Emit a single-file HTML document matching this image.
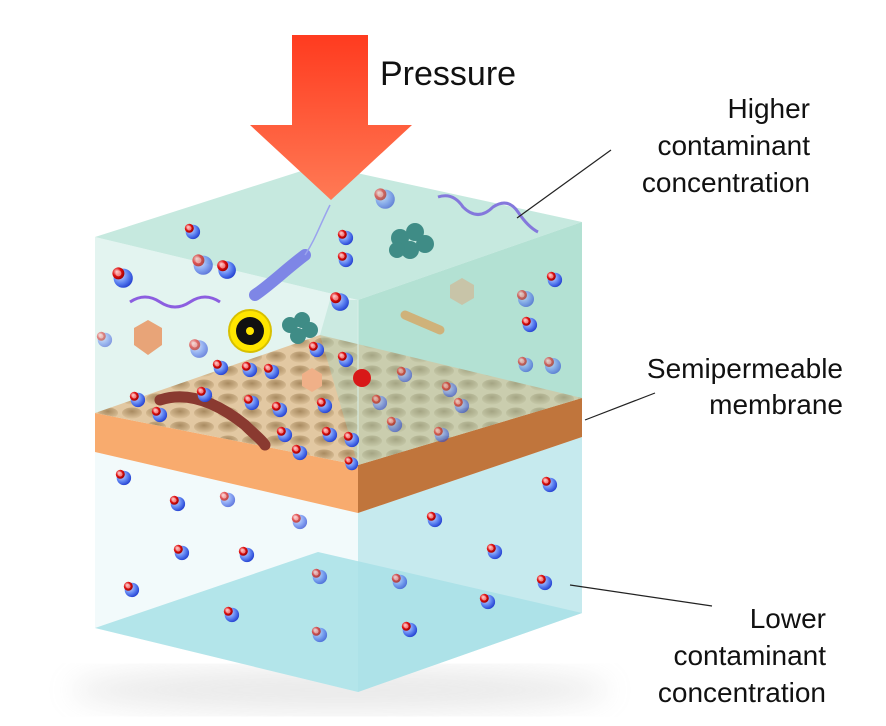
<!DOCTYPE html>
<html><head><meta charset="utf-8"><style>
html,body{margin:0;padding:0;background:#fff;}
svg{display:block}
text{font-family:"Liberation Sans",sans-serif;fill:#111;}
</style></head><body>
<svg width="886" height="726" viewBox="0 0 886 726" xmlns="http://www.w3.org/2000/svg">
<defs>
<linearGradient id="arr" x1="0" y1="0" x2="0" y2="1"><stop offset="0" stop-color="#ff3b1f"/><stop offset="1" stop-color="#ff7a55"/></linearGradient>
<radialGradient id="wb" cx="0.35" cy="0.35" r="0.7"><stop offset="0" stop-color="#c8d8ff"/><stop offset="0.6" stop-color="#5a7ff0"/><stop offset="1" stop-color="#2440d0"/></radialGradient>
<radialGradient id="wr" cx="0.35" cy="0.35" r="0.7"><stop offset="0" stop-color="#ffd0d0"/><stop offset="0.5" stop-color="#e01010"/><stop offset="1" stop-color="#a00000"/></radialGradient>
<radialGradient id="hole" cx="0.5" cy="0.35" r="0.6"><stop offset="0" stop-color="#a88a60"/><stop offset="1" stop-color="#d8bd95"/></radialGradient>
<pattern id="holes" width="24" height="14" patternUnits="userSpaceOnUse"><rect width="24" height="14" fill="#e2c8a2"/><ellipse cx="12" cy="7" rx="10" ry="5.5" fill="url(#hole)"/></pattern>
<filter id="blur"><feGaussianBlur stdDeviation="14"/></filter>
<symbol id="w" viewBox="0 0 20 20"><circle cx="11" cy="11" r="8" fill="url(#wb)"/><circle cx="7" cy="7" r="5" fill="url(#wr)"/><circle cx="7" cy="7" r="2.5" fill="#ffcccc" opacity=".6"/></symbol>
</defs>

<ellipse cx="340" cy="690" rx="270" ry="22" fill="#aaa" opacity=".25" filter="url(#blur)"/>

<polygon points="95,452 358,513 358,692 95,628" fill="#f2fafb"/>
<polygon points="358,513 582,437 582,613 358,692" fill="#c6eaee"/>
<polygon points="95,628 318,552 582,613 358,692" fill="#a8e0e6" opacity=".85"/>

<polygon points="95,237 358,300 358,465 95,413" fill="#e3f4f0"/>
<polygon points="358,300 582,222 582,398 358,465" fill="#bfe6da"/>
<polygon points="95,237 320,165 582,222 358,300" fill="#c6e9df"/>

<polygon points="95,413 358,465 358,513 95,452" fill="#f8ab6e"/>
<polygon points="358,465 582,398 582,437 358,513" fill="#c0753c"/>
<polygon points="95,413 320,335 582,398 358,465" fill="url(#holes)"/>
<polygon points="358,300 582,222 582,398 358,465 320,335 330,300" fill="#9fd8c5" opacity=".35"/>
<line x1="358" y1="300" x2="358" y2="465" stroke="#d8efe8" stroke-width="1"/>

<path d="M160,400 C190,390 220,405 245,425 C255,435 262,440 265,445" stroke="#8a3a30" stroke-width="11" fill="none" stroke-linecap="round"/>
<path d="M255,295 C270,285 285,270 305,255" stroke="#7e86e6" stroke-width="12" fill="none" stroke-linecap="round"/>
<path d="M305,255 C315,240 320,225 330,205" stroke="#9aa3ee" stroke-width="1.5" fill="none"/>
<path d="M130,302 q15,-10 30,0 q15,10 30,0 q15,-10 30,0" stroke="#8c5ee0" stroke-width="3" fill="none"/>
<path d="M438,197 q15,-5 25,10 q15,15 30,0 q15,-10 25,5 q10,15 20,20" stroke="#8478dc" stroke-width="3" fill="none"/>
<path d="M405,315 L440,330" stroke="#cfb27a" stroke-width="9" stroke-linecap="round"/>
<g fill="#3f8c86"><circle cx="400" cy="238" r="9"/><circle cx="415" cy="232" r="9"/><circle cx="425" cy="244" r="9"/><circle cx="410" cy="250" r="9"/><circle cx="397" cy="250" r="8"/>
<circle cx="290" cy="325" r="8"/><circle cx="302" cy="320" r="8"/><circle cx="310" cy="330" r="8"/><circle cx="298" cy="336" r="8"/></g>
<circle cx="250" cy="331" r="21" fill="#ffe600" stroke="#d8c000" stroke-width="2"/>
<circle cx="250" cy="331" r="14" fill="#111"/><circle cx="250" cy="331" r="4" fill="#ffe600"/>
<polygon points="148,320 162,328 162,345 148,355 134,345 134,328" fill="#e8a478"/>
<polygon points="462,278 474,285 474,298 462,305 450,298 450,285" fill="#c8c4a8"/>
<polygon points="312,368 322,374 322,386 312,392 302,386 302,374" fill="#f0b088"/>
<circle cx="362" cy="378" r="9" fill="#d81818"/>

<g>
<use href="#w" x="183" y="222" width="18" height="18"/><use href="#w" x="336" y="228" width="18" height="18"/><use href="#w" x="336" y="250" width="18" height="18"/>
<use href="#w" x="190" y="252" width="24" height="24" opacity=".7"/><use href="#w" x="372" y="186" width="24" height="24" opacity=".6"/>
<use href="#w" x="110" y="265" width="24" height="24"/><use href="#w" x="215" y="258" width="22" height="22"/><use href="#w" x="328" y="290" width="22" height="22"/>
<use href="#w" x="545" y="270" width="18" height="18"/><use href="#w" x="520" y="315" width="18" height="18"/><use href="#w" x="515" y="288" width="20" height="20" opacity=".6"/>
<use href="#w" x="187" y="337" width="22" height="22" opacity=".6"/><use href="#w" x="211" y="358" width="18" height="18"/><use href="#w" x="240" y="360" width="18" height="18"/>
<use href="#w" x="262" y="362" width="18" height="18"/><use href="#w" x="307" y="340" width="18" height="18"/><use href="#w" x="336" y="350" width="18" height="18"/>
<use href="#w" x="128" y="390" width="18" height="18"/><use href="#w" x="150" y="405" width="18" height="18"/><use href="#w" x="195" y="385" width="18" height="18"/>
<use href="#w" x="242" y="393" width="18" height="18"/><use href="#w" x="270" y="400" width="18" height="18"/><use href="#w" x="315" y="396" width="18" height="18"/>
<use href="#w" x="275" y="425" width="18" height="18"/><use href="#w" x="320" y="425" width="18" height="18"/><use href="#w" x="342" y="430" width="18" height="18"/>
<use href="#w" x="290" y="443" width="18" height="18"/><use href="#w" x="343" y="455" width="16" height="16"/>
<use href="#w" x="395" y="365" width="18" height="18" opacity=".6"/><use href="#w" x="440" y="380" width="18" height="18" opacity=".6"/><use href="#w" x="452" y="396" width="18" height="18" opacity=".6"/>
<use href="#w" x="370" y="393" width="18" height="18" opacity=".6"/><use href="#w" x="385" y="415" width="18" height="18" opacity=".6"/><use href="#w" x="432" y="425" width="18" height="18" opacity=".6"/>
<use href="#w" x="516" y="355" width="18" height="18" opacity=".6"/><use href="#w" x="542" y="355" width="20" height="20" opacity=".6"/><use href="#w" x="95" y="330" width="18" height="18" opacity=".5"/>
<use href="#w" x="114" y="468" width="18" height="18"/><use href="#w" x="168" y="494" width="18" height="18"/><use href="#w" x="218" y="490" width="18" height="18" opacity=".7"/>
<use href="#w" x="290" y="512" width="18" height="18" opacity=".7"/><use href="#w" x="172" y="543" width="18" height="18"/><use href="#w" x="237" y="545" width="18" height="18"/>
<use href="#w" x="122" y="580" width="18" height="18"/><use href="#w" x="222" y="605" width="18" height="18"/><use href="#w" x="310" y="567" width="18" height="18" opacity=".7"/>
<use href="#w" x="310" y="625" width="18" height="18" opacity=".7"/><use href="#w" x="390" y="572" width="18" height="18" opacity=".7"/><use href="#w" x="400" y="620" width="18" height="18"/>
<use href="#w" x="425" y="510" width="18" height="18"/><use href="#w" x="485" y="542" width="18" height="18"/><use href="#w" x="478" y="592" width="18" height="18"/>
<use href="#w" x="535" y="573" width="18" height="18"/><use href="#w" x="540" y="475" width="18" height="18"/>
</g>

<polygon points="292,35 368,35 368,125 412,125 331,200 250,125 292,125" fill="url(#arr)"/>

<g stroke="#222" stroke-width="1.2"><line x1="517" y1="218" x2="611" y2="150"/><line x1="585" y1="420" x2="655" y2="393"/><line x1="570" y1="585" x2="712" y2="606"/></g>

<text x="380" y="85" font-size="34">Pressure</text>
<g font-size="28" text-anchor="end">
<text x="810" y="118">Higher</text><text x="810" y="155">contaminant</text><text x="810" y="192">concentration</text>
<text x="843" y="378">Semipermeable</text><text x="843" y="414">membrane</text>
<text x="826" y="628">Lower</text><text x="826" y="665">contaminant</text><text x="826" y="702">concentration</text>
</g>
</svg>
</body></html>
